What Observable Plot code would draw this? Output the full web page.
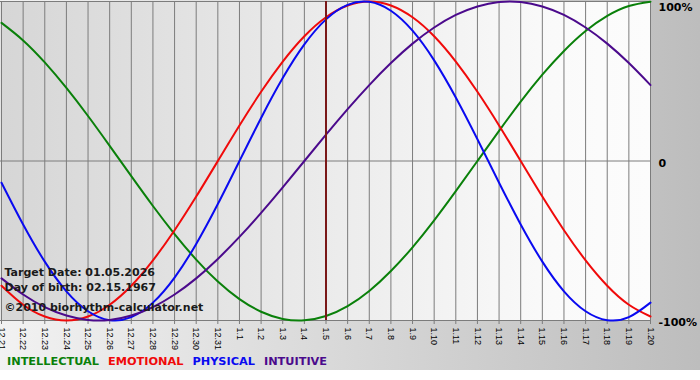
<!DOCTYPE html>
<html>
<head>
<meta charset="utf-8">
<script src="https://cdn.jsdelivr.net/npm/d3@7"></script>
<script src="https://cdn.jsdelivr.net/npm/@observablehq/plot@0.6"></script>
<style>
  html, body { margin: 0; padding: 0; background: #ffffff; }
  #wrap { width: 700px; height: 370px; background: linear-gradient(to right, #f2f2f2, #bdbdbd); position: relative; overflow: hidden; }
  #legend { position: absolute; left: 7px; top: 355px; font: bold 11.3px "DejaVu Sans", sans-serif; white-space: nowrap; }
  #legend span { margin-right: 9px; }
  svg text { font-family: "Liberation Sans", Arial, sans-serif; }
  g[aria-label="y-axis tick label"] text { font: bold 11px "DejaVu Sans", sans-serif; fill: #000; }
  g.note text { font: bold 11px "DejaVu Sans", sans-serif; }
</style>
</head>
<body>
<div id="wrap"><div id="chart"></div><div id="legend"></div></div>
<script>
const dates = ["12.21","12.22","12.23","12.24","12.25","12.26","12.27","12.28","12.29","12.30","12.31",
  "1.1","1.2","1.3","1.4","1.5","1.6","1.7","1.8","1.9","1.10","1.11","1.12","1.13","1.14","1.15","1.16","1.17","1.18","1.19","1.20"];
const intellectual = [0.866,0.756,0.618,0.458,0.282,0.095,-0.095,-0.282,-0.458,-0.618,-0.756,-0.866,-0.945,-0.990,-0.999,-0.972,-0.910,-0.815,-0.690,-0.541,-0.372,-0.189,0,0.189,0.372,0.541,0.690,0.815,0.910,0.972,0.999];
const emotional = [-0.782,-0.901,-0.975,-1,-0.975,-0.901,-0.782,-0.623,-0.434,-0.223,0,0.223,0.434,0.623,0.782,0.901,0.975,1,0.975,0.901,0.782,0.623,0.434,0.223,0,-0.223,-0.434,-0.623,-0.782,-0.901,-0.975];
const physical = [-0.136,-0.398,-0.631,-0.817,-0.942,-0.998,-0.979,-0.888,-0.731,-0.520,-0.270,0,0.270,0.520,0.731,0.888,0.979,0.998,0.942,0.817,0.631,0.398,0.136,-0.136,-0.398,-0.631,-0.817,-0.942,-0.998,-0.979,-0.888];
const intuitive = [-0.736,-0.837,-0.916,-0.969,-0.997,-0.997,-0.969,-0.916,-0.837,-0.736,-0.614,-0.476,-0.325,-0.165,0,0.165,0.325,0.476,0.614,0.736,0.837,0.916,0.969,0.997,0.997,0.969,0.916,0.837,0.736,0.614,0.476];
const seriesNames = ["INTELLECTUAL","EMOTIONAL","PHYSICAL","INTUITIVE"];
const seriesColors = ["#0a800a","#f00a0a","#0a0af0","#4b0a8c"];
const targetDate = "1.5";
const yTicks = [1, 0, -1];
const yTickLabels = ["100%", "0", "-100%"];
const notes = ["Target Date: 01.05.2026", "Day of birth: 02.15.1967", "\u00a92010 biorhythm-calculator.net"];

const dayIndex = dates.map((d, i) => i);
const seriesValues = [intellectual, emotional, physical, intuitive];
const rows = [];
seriesNames.forEach((name, s) => dates.forEach((d, i) => rows.push({day: i, value: seriesValues[s][i], series: name})));

const chart = Plot.plot({
  width: 700,
  height: 350,
  marginLeft: 1,
  marginRight: 50,
  marginTop: 1,
  marginBottom: 30,
  x: {domain: [0, dates.length - 1], label: null},
  y: {domain: [-1, 1], label: null},
  color: {domain: seriesNames, range: seriesColors},
  marks: [
    Plot.frame({fill: "url(#plotbg)", stroke: null, insetLeft: -1}),
    Plot.ruleX(dayIndex, {stroke: "#7c7c7c", strokeWidth: 1, strokeOpacity: 1}),
    Plot.ruleY(yTicks, {stroke: "#7c7c7c", strokeWidth: 1, insetLeft: -1}),
    Plot.axisX(dayIndex, {tickRotate: 90, tickSize: 4, tickPadding: 3, fontSize: 9, stroke: "#7c7c7c", fill: "#000", tickFormat: i => dates[i]}),
    Plot.axisY([0, -1], {anchor: "right", tickSize: 0, tickPadding: 8, dy: 2, tickFormat: v => yTickLabels[yTicks.indexOf(v)]}),
    Plot.axisY([1], {anchor: "right", tickSize: 0, tickPadding: 8, dy: 6, tickFormat: v => yTickLabels[yTicks.indexOf(v)]}),
    Plot.line(rows, {x: "day", y: "value", stroke: "series", z: "series", strokeWidth: 2, curve: "natural"}),
    Plot.ruleX([dates.indexOf(targetDate)], {stroke: "#7a1818", strokeWidth: 2}),
    Plot.text([notes[0]], {frameAnchor: "top-left", dx: 3, dy: 267, text: d => d, fill: "#1a1a1a", textAnchor: "start", className: "note"}),
    Plot.text([notes[1]], {frameAnchor: "top-left", dx: 3, dy: 282, text: d => d, fill: "#1a1a1a", textAnchor: "start", className: "note"}),
    Plot.text([notes[2]], {frameAnchor: "top-left", dx: 3, dy: 302, text: d => d, fill: "#1a1a1a", textAnchor: "start", className: "note"})
  ]
});
chart.style.background = "transparent";
const ns = "http://www.w3.org/2000/svg";
const defs = document.createElementNS(ns, "defs");
defs.innerHTML = '<linearGradient id="plotbg" x1="0" x2="1" y1="0" y2="0"><stop offset="0" stop-color="#d6d6d6"/><stop offset="0.85" stop-color="#fafafa"/><stop offset="1" stop-color="#fcfcfc"/></linearGradient>';
chart.insertBefore(defs, chart.firstChild);
document.getElementById("chart").appendChild(chart);

const legend = document.getElementById("legend");
seriesNames.forEach((n, i) => {
  const s = document.createElement("span");
  s.textContent = n;
  s.style.color = seriesColors[i];
  legend.appendChild(s);
});
</script>
</body>
</html>
